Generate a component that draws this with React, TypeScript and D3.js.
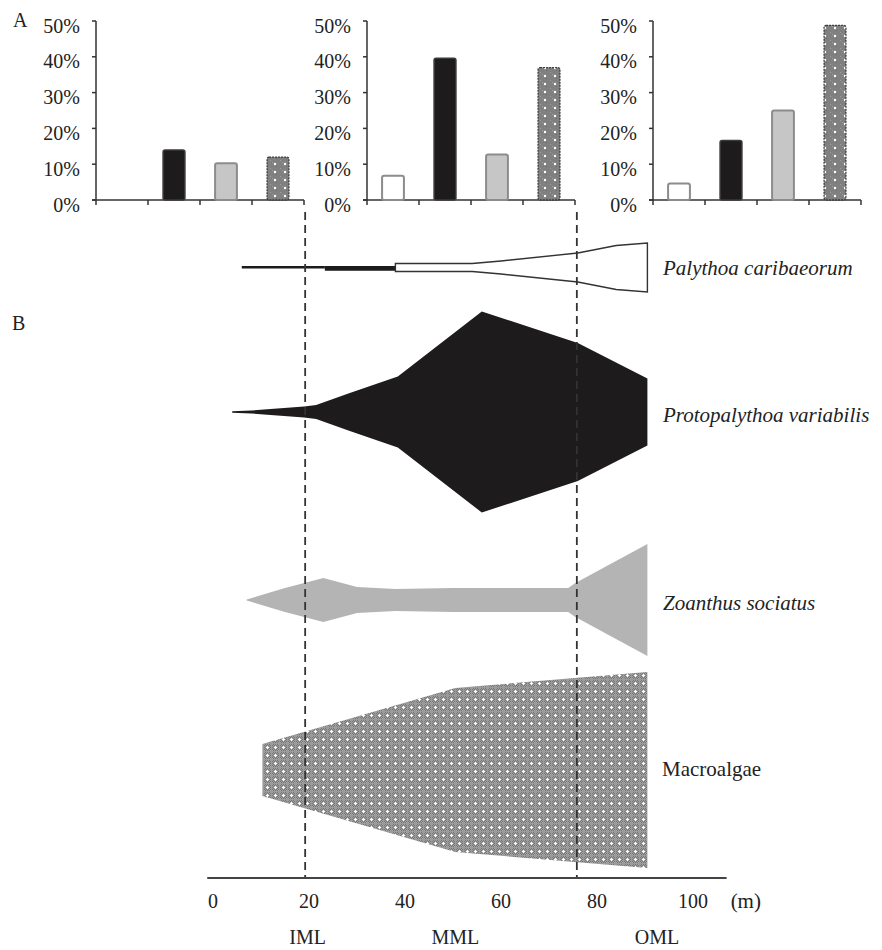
import React from "react";
import * as d3 from "d3";

// ---- Panel A data ----
const panels = ["IML", "MML", "OML"];
const groups = ["Palythoa caribaeorum", "Protopalythoa variabilis", "Zoanthus sociatus", "Macroalgae"];
const imlValues = [0, 14, 10.3, 12];
const mmlValues = [6.8, 39.6, 12.7, 37];
const omlValues = [4.6, 16.6, 25, 48.8];
const percentTicks = [0, 10, 20, 30, 40, 50];

// ---- Panel B data ----
const depthTicks = [0, 20, 40, 60, 80, 100];
const zoneBounds = [19.2, 75.8];
const zoneLabels = ["IML", "MML", "OML"];
const zoneLabelDepths = [19.7, 50.5, 92.5];

const palyThinDepth = [6, 23.3];
const palyThinHalf = [1.3, 1.3];
const palyThickDepth = [23.3, 38];
const palyThickHalf = [2.4, 2.4];
const palyOpenDepth = [38, 54, 60, 76, 84, 90.5];
const palyOpenHalf = [4, 4, 6.5, 14.5, 22, 24.5];

const protoDepth = [4, 8, 12, 19, 21.5, 28.5, 38.5, 56, 76, 90.5];
const protoHalf = [0.8, 1.5, 3, 5.5, 7, 19, 35.5, 100.5, 69, 33.5];

const zoanDepth = [7, 15, 23, 30, 38, 50, 74, 75.5, 90.5];
const zoanHalf = [0.5, 12, 22, 13, 11, 12, 12, 17, 56];

const macroDepth = [10.3, 50.5, 90.5];
const macroHalf = [26, 82, 98];

const FONT = '"Liberation Serif", "Times New Roman", Times, serif';

const barValues = [imlValues, mmlValues, omlValues];
const panelLeft = [96, 367, 653];
const panelW = 208;
const barTop = 21;
const barBase = 200;

type Pt = [number, number];

export default function App() {
  const yBar = d3.scaleLinear().domain([0, 50]).range([barBase, barTop]);
  const xDepth = d3.scaleLinear().domain([0, 100]).range([213, 693]);
  const wScale = d3.scaleLinear().domain([0, 100]).range([0, 100]);

  const kite = (depths: number[], halves: number[], cy: number) => {
    const pts: Pt[] = depths.map((d, i) => [d, halves[i]]);
    return (
      d3
        .area<Pt>()
        .x((p) => xDepth(p[0]))
        .y0((p) => cy + wScale(p[1]))
        .y1((p) => cy - wScale(p[1]))
        .curve(d3.curveLinear)(pts) || ""
    );
  };

  const barFill = ["#ffffff", "#1d1b1c", "#c6c6c6", "url(#dotPat)"];
  const barStroke = ["#8c8c8c", "#3a3a3a", "#8c8c8c", "#3c3c3c"];
  const barStrokeW = [2, 1.5, 2, 1.3];

  const yPaly = 267.5;
  const yProto = 412;
  const yZoan = 600;
  const yMacro = 770;
  const axisY = 878;

  const txt = { fontFamily: FONT, fill: "#222" } as React.CSSProperties;

  return (
    <svg
      width={882}
      height={950}
      style={{ position: "absolute", left: 0, top: 0, background: "#fff", fontFamily: FONT }}
    >
      <defs>
        <pattern id="dotPat" width="10" height="8" patternUnits="userSpaceOnUse">
          <rect width="10" height="8" fill="#808080" />
          <rect x="0" y="0" width="1" height="1" fill="#a0a0a0" />
          <rect x="2" y="2" width="1" height="1" fill="#a0a0a0" />
          <rect x="6" y="6" width="1" height="1" fill="#6a6a6a" />
          <circle cx="5" cy="4" r="1.2" fill="#ffffff" />
        </pattern>
        <pattern id="checker" width="2" height="2" patternUnits="userSpaceOnUse">
          <rect width="2" height="2" fill="#767676" />
          <rect x="0" y="0" width="1" height="1" fill="#a2a2a2" />
          <rect x="1" y="1" width="1" height="1" fill="#a2a2a2" />
        </pattern>
        <pattern id="macroPat" width="8" height="8" patternUnits="userSpaceOnUse">
          <rect width="8" height="8" fill="url(#checker)" />
          <rect x="0" y="7" width="8" height="1" fill="#9a9a9a" />
          <rect x="7" y="0" width="1" height="8" fill="#9a9a9a" />
          <rect x="3" y="2" width="1" height="3" fill="#ffffff" />
          <rect x="2" y="3" width="3" height="1" fill="#ffffff" />
        </pattern>
      </defs>

      {/* Panel labels */}
      <text x={13} y={27} fontSize={20} style={txt}>A</text>
      <text x={12} y={330} fontSize={20} style={txt}>B</text>

      {/* Panel A bar charts */}
      {panels.map((p, pi) => {
        const x0 = panelLeft[pi];
        const band = d3
          .scaleBand<string>()
          .domain(groups)
          .range([x0, x0 + panelW])
          .paddingInner(0.58)
          .paddingOuter(0.29);
        const step = band.step();
        const bounds = d3.range(groups.length + 1).map((i) => x0 + i * step);
        return (
          <g key={p}>
            <line x1={x0} x2={x0} y1={yBar(50)} y2={yBar(0)} stroke="#333" strokeWidth={1.5} />
            {percentTicks.map((t) => (
              <g key={t}>
                <line x1={x0 - 4} x2={x0} y1={yBar(t)} y2={yBar(t)} stroke="#333" strokeWidth={1.5} />
                <text
                  x={x0 - 16}
                  y={yBar(t) + 7}
                  fontSize={20}
                  textAnchor="end"
                  dominantBaseline="middle"
                  style={txt}
                >
                  {t}%
                </text>
              </g>
            ))}
            <line x1={x0 - 4} x2={x0 + panelW} y1={yBar(0)} y2={yBar(0)} stroke="#333" strokeWidth={1.5} />
            {bounds.map((b, i) => (
              <line key={i} x1={b} x2={b} y1={yBar(0)} y2={yBar(0) + 5} stroke="#333" strokeWidth={1.5} />
            ))}
            {groups.map((g, gi) => {
              const v = barValues[pi][gi];
              if (!v) return null;
              return (
                <rect
                  key={g}
                  x={band(g)}
                  y={yBar(v)}
                  width={band.bandwidth()}
                  height={yBar(0) - yBar(v)}
                  rx={2}
                  fill={barFill[gi]}
                  stroke={barStroke[gi]}
                  strokeWidth={barStrokeW[gi]}
                  strokeDasharray={gi === 3 ? "2,1" : undefined}
                />
              );
            })}
          </g>
        );
      })}

      {/* Panel B kite diagram */}
      <path d={kite(palyThinDepth, palyThinHalf, yPaly - 0.3)} fill="#1d1b1c" />
      <path d={kite(palyThickDepth, palyThickHalf, yPaly + 0.8)} fill="#1d1b1c" />
      <path d={kite(palyOpenDepth, palyOpenHalf, yPaly)} fill="#ffffff" stroke="#333" strokeWidth={1.4} />

      <path d={kite(protoDepth, protoHalf, yProto)} fill="#1d1b1c" />
      <path d={kite(zoanDepth, zoanHalf, yZoan)} fill="#b4b4b4" />
      <path d={kite(macroDepth, macroHalf, yMacro)} fill="url(#macroPat)" />

      {zoneBounds.map((z, i) => (
        <line
          key={i}
          x1={xDepth(z)}
          x2={xDepth(z)}
          y1={212}
          y2={axisY}
          stroke="#333"
          strokeWidth={1.8}
          strokeDasharray="8,5"
        />
      ))}

      <text x={663} y={yPaly + 7} fontSize={21} fontStyle="italic" style={txt}>
        {groups[0]}
      </text>
      <text x={663} y={yProto + 10} fontSize={21} fontStyle="italic" style={txt}>
        {groups[1]}
      </text>
      <text x={663} y={yZoan + 10} fontSize={21} fontStyle="italic" style={txt}>
        {groups[2]}
      </text>
      <text x={662} y={yMacro + 6} fontSize={21} style={txt}>
        {groups[3]}
      </text>

      <line x1={xDepth(-1.2)} x2={xDepth(107)} y1={axisY} y2={axisY} stroke="#444" strokeWidth={2} />
      {depthTicks.map((t) => (
        <text key={t} x={xDepth(t)} y={903} fontSize={20} textAnchor="middle" dominantBaseline="middle" style={txt}>
          {t}
        </text>
      ))}
      <text x={xDepth(111)} y={903} fontSize={21} textAnchor="middle" dominantBaseline="middle" style={txt}>
        (m)
      </text>
      {zoneLabels.map((z, i) => (
        <text
          key={z}
          x={xDepth(zoneLabelDepths[i])}
          y={939}
          fontSize={20}
          textAnchor="middle"
          dominantBaseline="middle"
          style={txt}
        >
          {z}
        </text>
      ))}
    </svg>
  );
}
